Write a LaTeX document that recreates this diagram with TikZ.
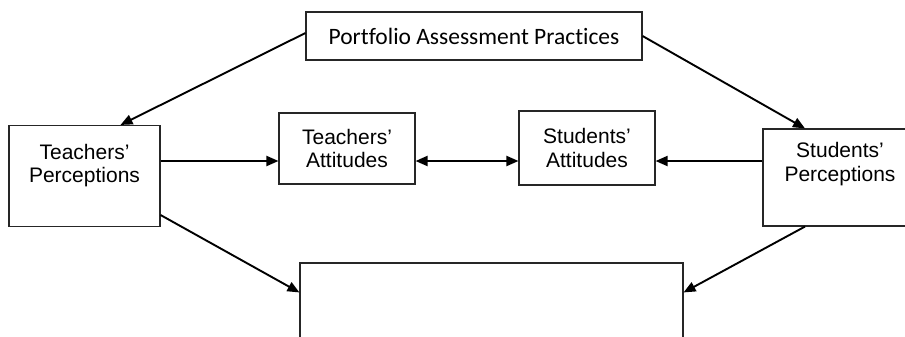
\documentclass[tikz,border=0pt]{standalone}
\usepackage{fontspec}
\setmainfont{Liberation Sans}
\newfontfamily\calib[Ligatures={NoCommon}]{Carlito}
\usetikzlibrary{arrows.meta}
\begin{document}
\begin{tikzpicture}[x=1pt,y=-1pt,
  box/.style={draw=black!85, line width=1.1pt, inner sep=0pt, rectangle},
  arr/.style={line width=1.9pt, -{Triangle[length=12pt,width=10pt]}},
  darr/.style={line width=1.9pt, {Triangle[length=12pt,width=10pt]}-{Triangle[length=12pt,width=10pt]}},
  lbl/.style={align=center, font=\fontsize{21}{23.5}\selectfont, inner sep=0pt}]
\useasboundingbox (0,0) rectangle (905,337);
\clip (0,0) rectangle (905,337);
\fill[white] (0,0) rectangle (905,337);
% boxes
\node[box, minimum width=336pt, minimum height=48pt, font=\calib\fontsize{23.5}{28}\selectfont] (pap) at (474,36) {Portfolio Assessment Practices};
\node[box, minimum width=151pt, minimum height=101pt] (tp) at (84.5,176) {};
\node[box, minimum width=154pt, minimum height=97pt] (sp) at (840,177.5) {};
\node[box, lbl, minimum width=136pt, minimum height=71pt] (ta) at (347,148.5) {Teachers’\\Attitudes};
\node[box, lbl, minimum width=136pt, minimum height=74pt] (sa) at (587,148) {Students’\\Attitudes};
\node[box, minimum width=383pt, minimum height=140pt] (out) at (491.5,333) {};
% texts of the tall boxes
\node[lbl, anchor=north] (tpt) at ([yshift=-19pt]tp.north) {Teachers’\\Perceptions};
\node[lbl, anchor=north] (spt) at ([yshift=-14pt]sp.north) {Students’\\Perceptions};
% connectors
\coordinate (h) at ([yshift=15pt]tp.east);
\draw[arr] ([yshift=3pt]pap.west) -- ([xshift=36pt]tp.north);
\draw[arr] (pap.east) -- ([xshift=-35pt]sp.north);
\draw[arr] (h) -- (h -| ta.west);
\draw[darr] (h -| ta.east) -- (h -| sa.west);
\draw[arr] (h -| sp.west) -- (h -| sa.east);
\draw[arr] ([yshift=-39pt]tp.east) -- ([yshift=-30pt]out.north west);
\draw[arr] ([xshift=-35pt]sp.south) -- ([yshift=-30pt]out.north east);
\end{tikzpicture}
\end{document}
